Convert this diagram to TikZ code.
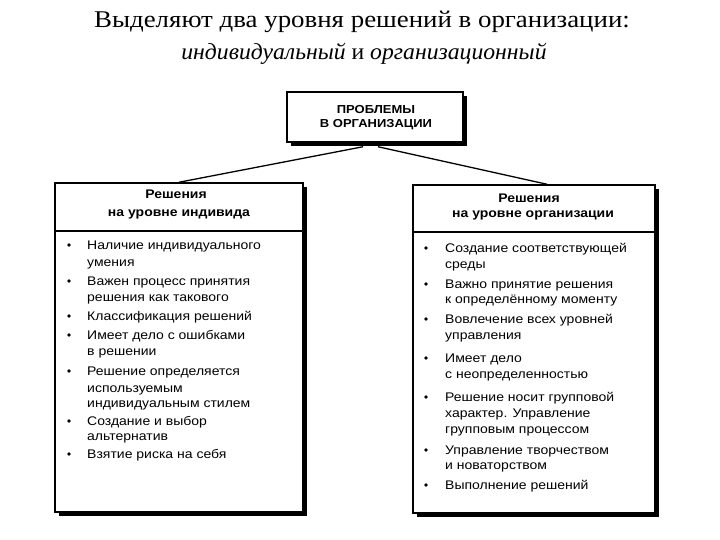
\documentclass[tikz,border=0pt]{standalone}
\usepackage{fontspec}
\setmainfont{Liberation Serif}
\newfontfamily\titlef[FakeStretch=1.12]{Liberation Serif}
\newfontfamily\subtf[FakeStretch=1.03]{Liberation Serif}
\newfontfamily\bodyf[FakeStretch=1.12]{Liberation Sans}
\usetikzlibrary{calc,shadows}
\begin{document}
\begin{tikzpicture}[x=1pt,y=-1pt,
  box/.style={draw, line width=1.5pt, fill=white, inner sep=0pt,
    drop shadow={shadow xshift=4pt, shadow yshift=-4pt, opacity=1, fill=black}},
  itm/.style={anchor=base west, inner sep=0pt, font=\bodyf\fontsize{12.5}{15}\selectfont},
  hdr/.style={anchor=base, inner sep=0pt, font=\bodyf\bfseries\fontsize{12.5}{15}\selectfont},
  phdr/.style={anchor=base, inner sep=0pt, font=\bodyf\bfseries\fontsize{11.6}{14}\selectfont},
  bul/.style={circle, fill=black, inner sep=0pt, minimum size=3.6pt},
  link/.style={line width=1.3pt},
  sep/.style={line width=1.6pt},
  ttl/.style={anchor=base, inner sep=0pt, font=\titlef\fontsize{24}{28}\selectfont},
  subttl/.style={anchor=base, inner sep=0pt, font=\subtf\fontsize{23}{27}\selectfont}]
\useasboundingbox (0,0) rectangle (720,540);
\fill[white] (0,0) rectangle (720,540);

% title
\node[ttl] (t1) at (362,28) {Выделяют два уровня решений в организации:};
\node[subttl] (t2) at (364,60) {\textit{индивидуальный} и \textit{организационный}};

% boxes
\node[box, minimum width=176pt, minimum height=50pt] (top) at (375,117) {};
\node[box, minimum width=248pt, minimum height=329pt] (L) at (179,347.5) {};
\node[box, minimum width=242pt, minimum height=328pt] (R) at (534,349) {};

% connectors
\draw[link] ($(top.south)+(-12,4)$) -- (L.north);
\draw[link] ($(top.south)+(3,4)$) -- ($(R.north)+(13,0)$);

% separators
\draw[sep] ($(L.north west)+(0,49)$) -- ($(L.north east)+(0,49)$);
\draw[sep] ($(R.north west)+(0,48)$) -- ($(R.north east)+(0,48)$);

% top box text
\node[phdr] (p1) at (376,114) {ПРОБЛЕМЫ};
\node[phdr] (p2) at (376,128) {В ОРГАНИЗАЦИИ};

% headers
\node[hdr] (lh1) at (176,199) {Решения};
\node[hdr] (lh2) at (179,216) {на уровне индивида};
\node[hdr] (rh1) at (529,203) {Решения};
\node[hdr] (rh2) at (533,218) {на уровне организации};

% left items
\foreach \y/\t [count=\i] in {
  249/Наличие индивидуального,
  266/умения,
  285/Важен процесс принятия,
  301/решения как такового,
  320/Классификация решений,
  339/Имеет дело с ошибками,
  355/в решении,
  375/Решение определяется,
  392/используемым,
  407/индивидуальным стилем,
  425/Создание и выбор,
  440/альтернатив,
  458/Взятие риска на себя}
  \node[itm] (L\i) at (87,\y) {\t};
\foreach \y [count=\i] in {249,285,320,339,375,425,458}
  \node[bul] (LB\i) at (69,\y-4) {};

% right items
\foreach \y/\t [count=\i] in {
  252/Создание соответствующей,
  268/среды,
  288/Важно принятие решения,
  303/к определённому моменту,
  323/Вовлечение всех уровней,
  339/управления,
  362/Имеет дело,
  378/с неопределенностью,
  401/Решение носит групповой,
  417/характер. Управление,
  433/групповым процессом,
  454/Управление творчеством,
  469/и новаторством,
  489/Выполнение решений}
  \node[itm] (R\i) at (445,\y) {\t};
\foreach \y [count=\i] in {252,288,323,362,401,454,489}
  \node[bul] (RB\i) at (426,\y-4) {};
\end{tikzpicture}
\end{document}
